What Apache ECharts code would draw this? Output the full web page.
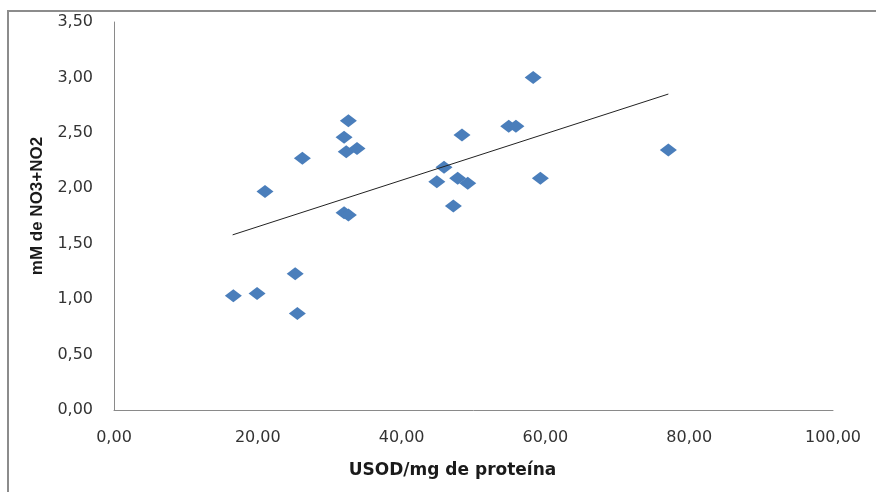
<!DOCTYPE html>
<html>
<head>
<meta charset="utf-8">
<script src="https://cdn.jsdelivr.net/npm/echarts@6/dist/echarts.min.js"></script>
<style>
  html, body { margin: 0; padding: 0; background: #fff; }
  #chart { width: 876px; height: 492px; }
</style>
</head>
<body>
<div id="chart"></div>
<script>
// USOD activity per mg protein (x) vs. nitrate + nitrite concentration (y)
const usod = [16.6, 19.9, 21.0, 25.2, 25.5, 26.2, 32.6, 32.0, 32.3, 33.8, 32.0, 32.6,
              45.9, 44.9, 48.4, 47.2, 47.8, 49.2, 54.9, 55.9, 58.3, 59.3, 77.1];
const no3no2 = [1.03, 1.05, 1.97, 1.23, 0.87, 2.27, 2.61, 2.46, 2.33, 2.36, 1.78, 1.76,
                2.19, 2.06, 2.48, 1.84, 2.09, 2.045, 2.56, 2.56, 3.00, 2.09, 2.345];

// Linear trend line end points
const trendX = [16.5, 77.1];
const trendY = [1.58, 2.85];

const xTitle = 'USOD/mg de proteína';
const yTitle = 'mM de NO3+NO2';

const fmt = v => v.toFixed(2).replace('.', ',');

const points = usod.map((x, i) => [x, no3no2[i]]);
const trend = trendX.map((x, i) => [x, trendY[i]]);

const chart = echarts.init(document.getElementById('chart'), null, { renderer: 'canvas' });

chart.setOption({
  animation: false,
  backgroundColor: '#ffffff',
  grid: { left: 114, right: 43, top: 22, bottom: 82, containLabel: false },
  graphic: [{
    type: 'polyline',
    shape: { points: [[8, 492], [8, 11], [876, 11]] },
    style: { stroke: '#8c8c8c', lineWidth: 2, fill: null },
    silent: true
  }],
  xAxis: {
    type: 'value',
    min: 0, max: 100, interval: 20,
    name: xTitle,
    nameLocation: 'middle',
    nameGap: 52,
    nameTextStyle: {
      fontFamily: 'DejaVu Sans', fontWeight: 'bold', fontSize: 17, color: '#1a1a1a',
      padding: [0, 42, 0, 0]
    },
    axisLine: { show: true, lineStyle: { color: '#8a8a8a', width: 1 } },
    axisTick: { show: false },
    splitLine: { show: false },
    axisLabel: {
      formatter: fmt, margin: 20,
      fontFamily: 'DejaVu Sans', fontSize: 16, color: '#333333'
    }
  },
  yAxis: {
    type: 'value',
    min: 0, max: 3.5, interval: 0.5,
    name: yTitle,
    nameLocation: 'middle',
    nameGap: 68,
    nameRotate: 90,
    nameTextStyle: {
      fontFamily: 'Liberation Sans', fontWeight: 'bold', fontSize: 17, color: '#1a1a1a',
      padding: [0, 0, 0, 20]
    },
    axisLine: { show: true, lineStyle: { color: '#8a8a8a', width: 1 } },
    axisTick: { show: false },
    splitLine: { show: false },
    axisLabel: {
      formatter: fmt, margin: 21,
      fontFamily: 'DejaVu Sans', fontSize: 16, color: '#333333'
    }
  },
  series: [
    {
      type: 'scatter',
      data: points,
      symbol: 'diamond',
      symbolSize: [17, 13],
      itemStyle: { color: '#4a7ebb', opacity: 1 },
      z: 2
    },
    {
      type: 'line',
      data: trend,
      symbol: 'none',
      lineStyle: { color: '#222222', width: 1 },
      z: 3
    }
  ]
});
</script>
</body>
</html>
